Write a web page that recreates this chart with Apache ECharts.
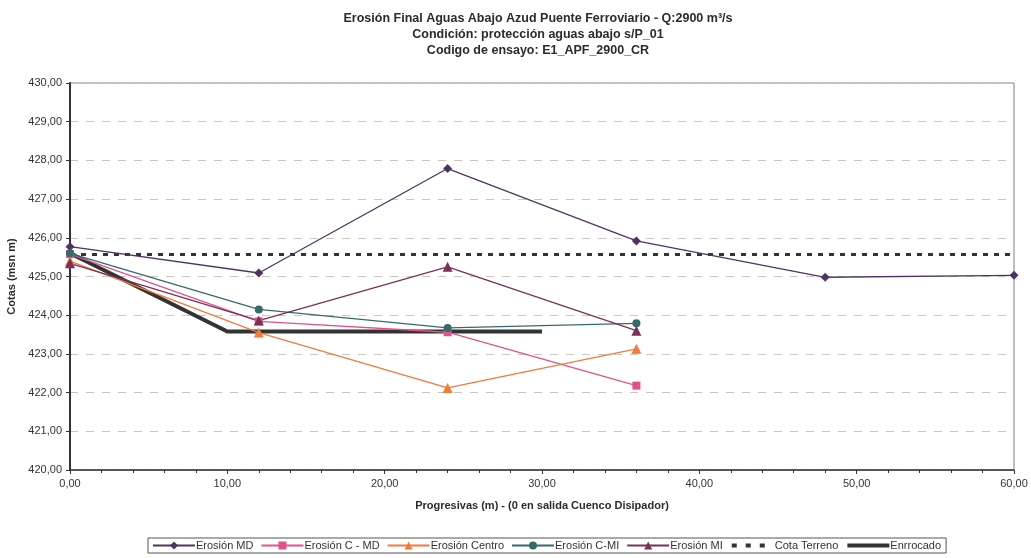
<!DOCTYPE html>
<html>
<head>
<meta charset="utf-8">
<script src="https://cdn.jsdelivr.net/npm/echarts@6/dist/echarts.min.js"></script>
<style>
  html, body { margin: 0; padding: 0; background: #fff; }
  #chart { width: 1031px; height: 558px; }
</style>
</head>
<body>
<div id="chart"></div>
<script>
// Progresivas (m) measured from the exit of the stilling basin
const progresivas = [0, 12, 24, 36, 48, 60];

// Bed levels (msnm) for each survey line
const erosionMD     = [425.77, 425.09, 427.79, 425.92, 424.98, 425.03];
const erosionCMD    = [425.58, 423.84, 423.56, 422.18];
const erosionCentro = [425.40, 423.55, 422.12, 423.13];
const erosionCMI    = [425.60, 424.15, 423.67, 423.79];
const erosionMI     = [425.34, 423.86, 425.25, 423.60];

// Original ground level and rock protection profile
const cotaTerrenoX = [0, 60];
const cotaTerreno  = [425.57, 425.57];
const enrocadoX    = [0, 10, 30];
const enrocado     = [425.60, 423.58, 423.58];

const yTicks = { min: 420, max: 430, interval: 1 };
const xTicks = { min: 0, max: 60, interval: 10 };

function pairs(xs, ys) { return ys.map((y, i) => [xs[i], y]); }
const fmt = v => v.toFixed(2).replace('.', ',');

const font = 'Arial, "Liberation Sans", sans-serif';
const narrow = '"Liberation Sans Narrow", "Arial Narrow", Arial, sans-serif';

function lineSeries(name, data, color, symbol, size, extra) {
  return Object.assign({
    name, type: 'line', data, symbol, symbolSize: size,
    showSymbol: true,
    lineStyle: { color, width: 1.3 },
    itemStyle: { color },
    emphasis: { disabled: true },
    animation: false
  }, extra || {});
}

// Legend entries for plain lines carry no marker
const noMarker = { color: 'transparent', borderWidth: 0, opacity: 0 };

const chart = echarts.init(document.getElementById('chart'), null, { renderer: 'canvas' });
chart.setOption({
  backgroundColor: '#fff',
  animation: false,
  title: {
    text: 'Erosión Final Aguas Abajo Azud Puente Ferroviario - Q:2900 m³/s\nCondición: protección aguas abajo s/P_01\nCodigo de ensayo: E1_APF_2900_CR',
    left: 533, top: 6, textAlign: 'center',
    textStyle: { fontFamily: font, fontSize: 12.5, fontWeight: 'bold', color: '#2b2b2b', lineHeight: 16 }
  },
  grid: {
    left: 70, right: 17, top: 83, bottom: 88,
    outerBoundsMode: 'none', containLabel: false,
    show: true, borderColor: '#808080', borderWidth: 1, backgroundColor: 'transparent'
  },
  legend: {
    left: 148, top: 538, width: 860,
    itemWidth: 42, itemHeight: 10, itemGap: 7,
    padding: [2, 5, 2, 4],
    borderColor: '#555', borderWidth: 1,
    textStyle: { fontFamily: narrow, fontSize: 11, color: '#333', padding: [0, 0, 0, -4] },
    data: [
      'Erosión MD', 'Erosión C - MD', 'Erosión Centro', 'Erosión C-MI', 'Erosión MI',
      { name: 'Cota Terreno', itemStyle: noMarker, lineStyle: { width: 4, type: [5, 9] } },
      { name: 'Enrrocado', itemStyle: noMarker, lineStyle: { width: 4 } }
    ]
  },
  xAxis: {
    type: 'value', min: xTicks.min, max: xTicks.max, interval: xTicks.interval,
    name: 'Progresivas (m) - (0 en salida Cuenco Disipador)',
    nameLocation: 'middle', nameGap: 30,
    nameTextStyle: { fontFamily: font, fontSize: 11, fontWeight: 'bold', color: '#2b2b2b' },
    axisLine: { onZero: false, lineStyle: { color: '#333', width: 1.5 } },
    axisTick: { show: true, length: 4, lineStyle: { color: '#333' } },
    minorTick: { show: true, splitNumber: 5, length: 3, lineStyle: { color: '#333' } },
    axisLabel: { formatter: fmt, fontFamily: font, fontSize: 11, color: '#333', margin: 8 },
    splitLine: { show: false }
  },
  yAxis: {
    type: 'value', min: yTicks.min, max: yTicks.max, interval: yTicks.interval,
    name: 'Cotas (msn m)', nameLocation: 'middle', nameGap: 49, nameRotate: 90,
    nameTextStyle: { fontFamily: font, fontSize: 11, fontWeight: 'bold', color: '#2b2b2b' },
    axisLine: { show: true, onZero: false, lineStyle: { color: '#333', width: 2 } },
    axisTick: { show: true, length: 4, lineStyle: { color: '#333' } },
    axisLabel: { formatter: fmt, fontFamily: font, fontSize: 11, color: '#333', margin: 8 },
    splitLine: { show: true, lineStyle: { color: '#cdc5bc', type: [8, 8], width: 1 } }
  },
  series: [
    lineSeries('Enrrocado', pairs(enrocadoX, enrocado), '#333333', 'none', 0,
      { lineStyle: { color: '#333333', width: 4 }, z: 1 }),
    lineSeries('Cota Terreno', pairs(cotaTerrenoX, cotaTerreno), '#333333', 'none', 0,
      { lineStyle: { color: '#333333', width: 3, type: [5, 6] }, z: 1 }),
    lineSeries('Erosión MD', pairs(progresivas, erosionMD), '#4f3462', 'diamond', 9, { z: 3 }),
    lineSeries('Erosión C - MD', pairs(progresivas, erosionCMD), '#e0528c', 'rect', 8, { z: 3 }),
    lineSeries('Erosión Centro', pairs(progresivas, erosionCentro), '#f27a3a', 'triangle', 10, { z: 3 }),
    lineSeries('Erosión C-MI', pairs(progresivas, erosionCMI), '#356a6c', 'circle', 8, { z: 3 }),
    lineSeries('Erosión MI', pairs(progresivas, erosionMI), '#7b2f59', 'triangle', 10, { z: 3 })
  ]
});
</script>
</body>
</html>
